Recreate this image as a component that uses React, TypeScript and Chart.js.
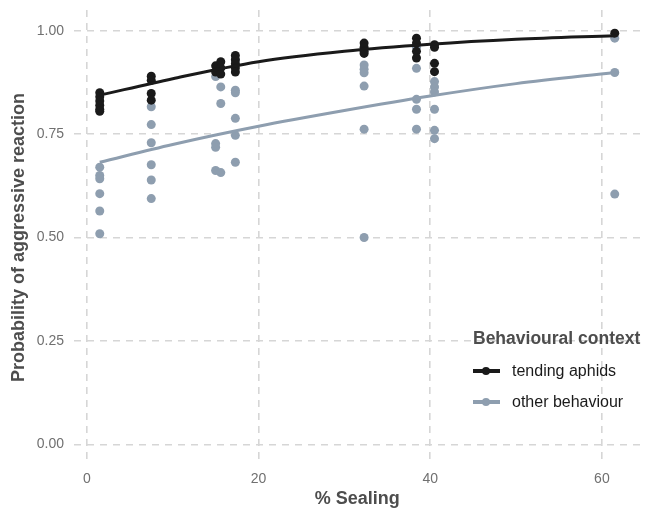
import React, { useEffect, useRef } from "react";
import { Chart, registerables } from "chart.js";

Chart.register(...registerables);

// ---- data ----
const tendingX = [
  1.5, 1.5, 1.5, 1.5, 1.5, 1.5,
  7.5, 7.5, 7.5, 7.5,
  15.0, 15.0, 15.6, 15.6, 15.6,
  17.3, 17.3, 17.3, 17.3, 17.3,
  32.3, 32.3, 32.3, 32.3,
  38.4, 38.4, 38.4, 38.4,
  40.5, 40.5, 40.5, 40.5,
  61.5,
];
const tendingY = [
  0.85, 0.84, 0.83, 0.82, 0.81, 0.805,
  0.89, 0.88, 0.848, 0.832,
  0.915, 0.9, 0.925, 0.91, 0.895,
  0.94, 0.93, 0.92, 0.91, 0.9,
  0.97, 0.96, 0.95, 0.945,
  0.982, 0.97, 0.95, 0.934,
  0.966, 0.96, 0.921, 0.901,
  0.994,
];

const otherX = [
  1.5, 1.5, 1.5, 1.5, 1.5, 1.5,
  7.5, 7.5, 7.5, 7.5, 7.5, 7.5,
  15.0, 15.0, 15.0, 15.0, 15.6, 15.6, 15.6,
  17.3, 17.3, 17.3, 17.3, 17.3, 17.3,
  32.3, 32.3, 32.3, 32.3, 32.3, 32.3,
  38.4, 38.4, 38.4, 38.4, 38.4,
  40.5, 40.5, 40.5, 40.5, 40.5, 40.5,
  61.5, 61.5, 61.5,
];
const otherY = [
  0.67, 0.65, 0.642, 0.606, 0.564, 0.509,
  0.816, 0.773, 0.729, 0.676, 0.639, 0.594,
  0.889, 0.727, 0.718, 0.662, 0.864, 0.824, 0.657,
  0.929, 0.856, 0.85, 0.788, 0.747, 0.682,
  0.917, 0.907, 0.898, 0.866, 0.762, 0.5,
  0.96, 0.909, 0.834, 0.81, 0.762,
  0.877, 0.864, 0.852, 0.81, 0.759, 0.739,
  0.982, 0.899, 0.605,
];

// fitted curves, read at a few x positions
const fitX = [1.5, 10, 20, 30, 40, 50, 61.5];
const tendingFit = [0.844, 0.884, 0.925, 0.95, 0.967, 0.979, 0.988];
const otherFit = [0.682, 0.725, 0.769, 0.807, 0.842, 0.872, 0.899];

const xTicks = [0, 20, 40, 60];
const yTicks = [0, 0.25, 0.5, 0.75, 1];

const seriesNames = ["tending aphids", "other behaviour"];
const legendTitle = "Behavioural context";
const xTitle = "% Sealing";
const yTitle = "Probability of aggressive reaction";

const BLACK = "#1a1a1a";
const GRAY = "#8e9eaf";
const FONT = "'Liberation Sans', Arial, sans-serif";
const GRID = "#d6d6d6";
const DASH = [7, 6];

export default function App() {
  const ref = useRef<HTMLCanvasElement>(null);

  useEffect(() => {
    document.body.style.margin = "0";
    const ctx = ref.current!.getContext("2d")!;
    const pts = (xs: number[], ys: number[]) => xs.map((x, i) => ({ x, y: ys[i] }));
    const chart = new Chart(ctx, {
      type: "scatter",
      data: {
        datasets: [
          {
            label: seriesNames[1] + " line",
            type: "line",
            data: pts(fitX, otherFit),
            borderColor: GRAY,
            borderWidth: 3,
            pointRadius: 0,
            cubicInterpolationMode: "monotone",
            order: 2,
          },
          {
            label: seriesNames[0] + " line",
            type: "line",
            data: pts(fitX, tendingFit),
            borderColor: BLACK,
            borderWidth: 3,
            pointRadius: 0,
            cubicInterpolationMode: "monotone",
            order: 1,
          },
          {
            label: seriesNames[1],
            data: pts(otherX, otherY),
            backgroundColor: GRAY,
            borderWidth: 0,
            pointRadius: 4.5,
            order: 4,
          },
          {
            label: seriesNames[0],
            data: pts(tendingX, tendingY),
            backgroundColor: BLACK,
            borderWidth: 0,
            pointRadius: 4.5,
            order: 3,
          },
        ],
      },
      options: {
        animation: false,
        responsive: false,
        layout: { padding: { top: 10, right: 4, left: 0, bottom: 0 } },
        plugins: { legend: { display: false }, tooltip: { enabled: false } },
        scales: {
          x: {
            type: "linear",
            min: -1.5,
            max: 64.5,
            afterBuildTicks: (s: any) => {
              s.ticks = xTicks.map((v) => ({ value: v }));
            },
            afterFit: (s: any) => {
              s.height = 45;
              s.paddingLeft = 0;
              s.paddingRight = 0;
            },
            border: { display: false, dash: DASH },
            grid: {
              color: GRID,
              lineWidth: 1.6,
              drawTicks: false,
            },
            ticks: {
              color: "#707070",
              font: { family: FONT, size: 14 },
              padding: 6,
              callback: (v: any) => String(v),
            },
            title: {
              display: true,
              text: xTitle,
              color: "#4d4d4d",
              font: { family: FONT, size: 18, weight: "bold" },
              padding: { top: 0, bottom: 0 },
            },
          },
          y: {
            type: "linear",
            min: -0.05,
            max: 1.05,
            afterBuildTicks: (s: any) => {
              s.ticks = yTicks.map((v) => ({ value: v }));
            },
            afterFit: (s: any) => {
              s.width = 74;
              s.paddingTop = 0;
              s.paddingBottom = 0;
            },
            border: { display: false, dash: DASH },
            grid: {
              color: GRID,
              lineWidth: 1.6,
              drawTicks: false,
            },
            ticks: {
              color: "#707070",
              font: { family: FONT, size: 14 },
              padding: 10,
              callback: (v: any) => Number(v).toFixed(2),
            },
            title: {
              display: true,
              text: yTitle,
              color: "#4d4d4d",
              font: { family: FONT, size: 18, weight: "bold" },
              padding: { top: 8, bottom: 0 },
            },
          },
        },
      },
    } as any);
    return () => chart.destroy();
  }, []);

  const legendItem = (color: string, text: string) => (
    <div style={{ display: "flex", alignItems: "center", height: 31 }}>
      <div style={{ position: "relative", width: 27, height: 10, marginRight: 12 }}>
        <div style={{ position: "absolute", left: 0, right: 0, top: 3, height: 4, background: color }} />
        <div
          style={{
            position: "absolute",
            left: 9,
            top: 1,
            width: 8,
            height: 8,
            borderRadius: "50%",
            background: color,
          }}
        />
      </div>
      <span style={{ fontSize: 16, color: "#1a1a1a", lineHeight: "18px" }}>{text}</span>
    </div>
  );

  return (
    <div style={{ position: "relative", width: 645, height: 510, fontFamily: FONT, background: "#fff" }}>
      <canvas ref={ref} width={645} height={510} />
      <div style={{ position: "absolute", left: 468, top: 327, padding: "0 2px 2px 5px" }}>
        <div style={{ fontSize: 17.5, fontWeight: "bold", color: "#4d4d4d", lineHeight: "22px", marginBottom: 6 }}>
          {legendTitle}
        </div>
        {legendItem(BLACK, seriesNames[0])}
        {legendItem(GRAY, seriesNames[1])}
      </div>
    </div>
  );
}
